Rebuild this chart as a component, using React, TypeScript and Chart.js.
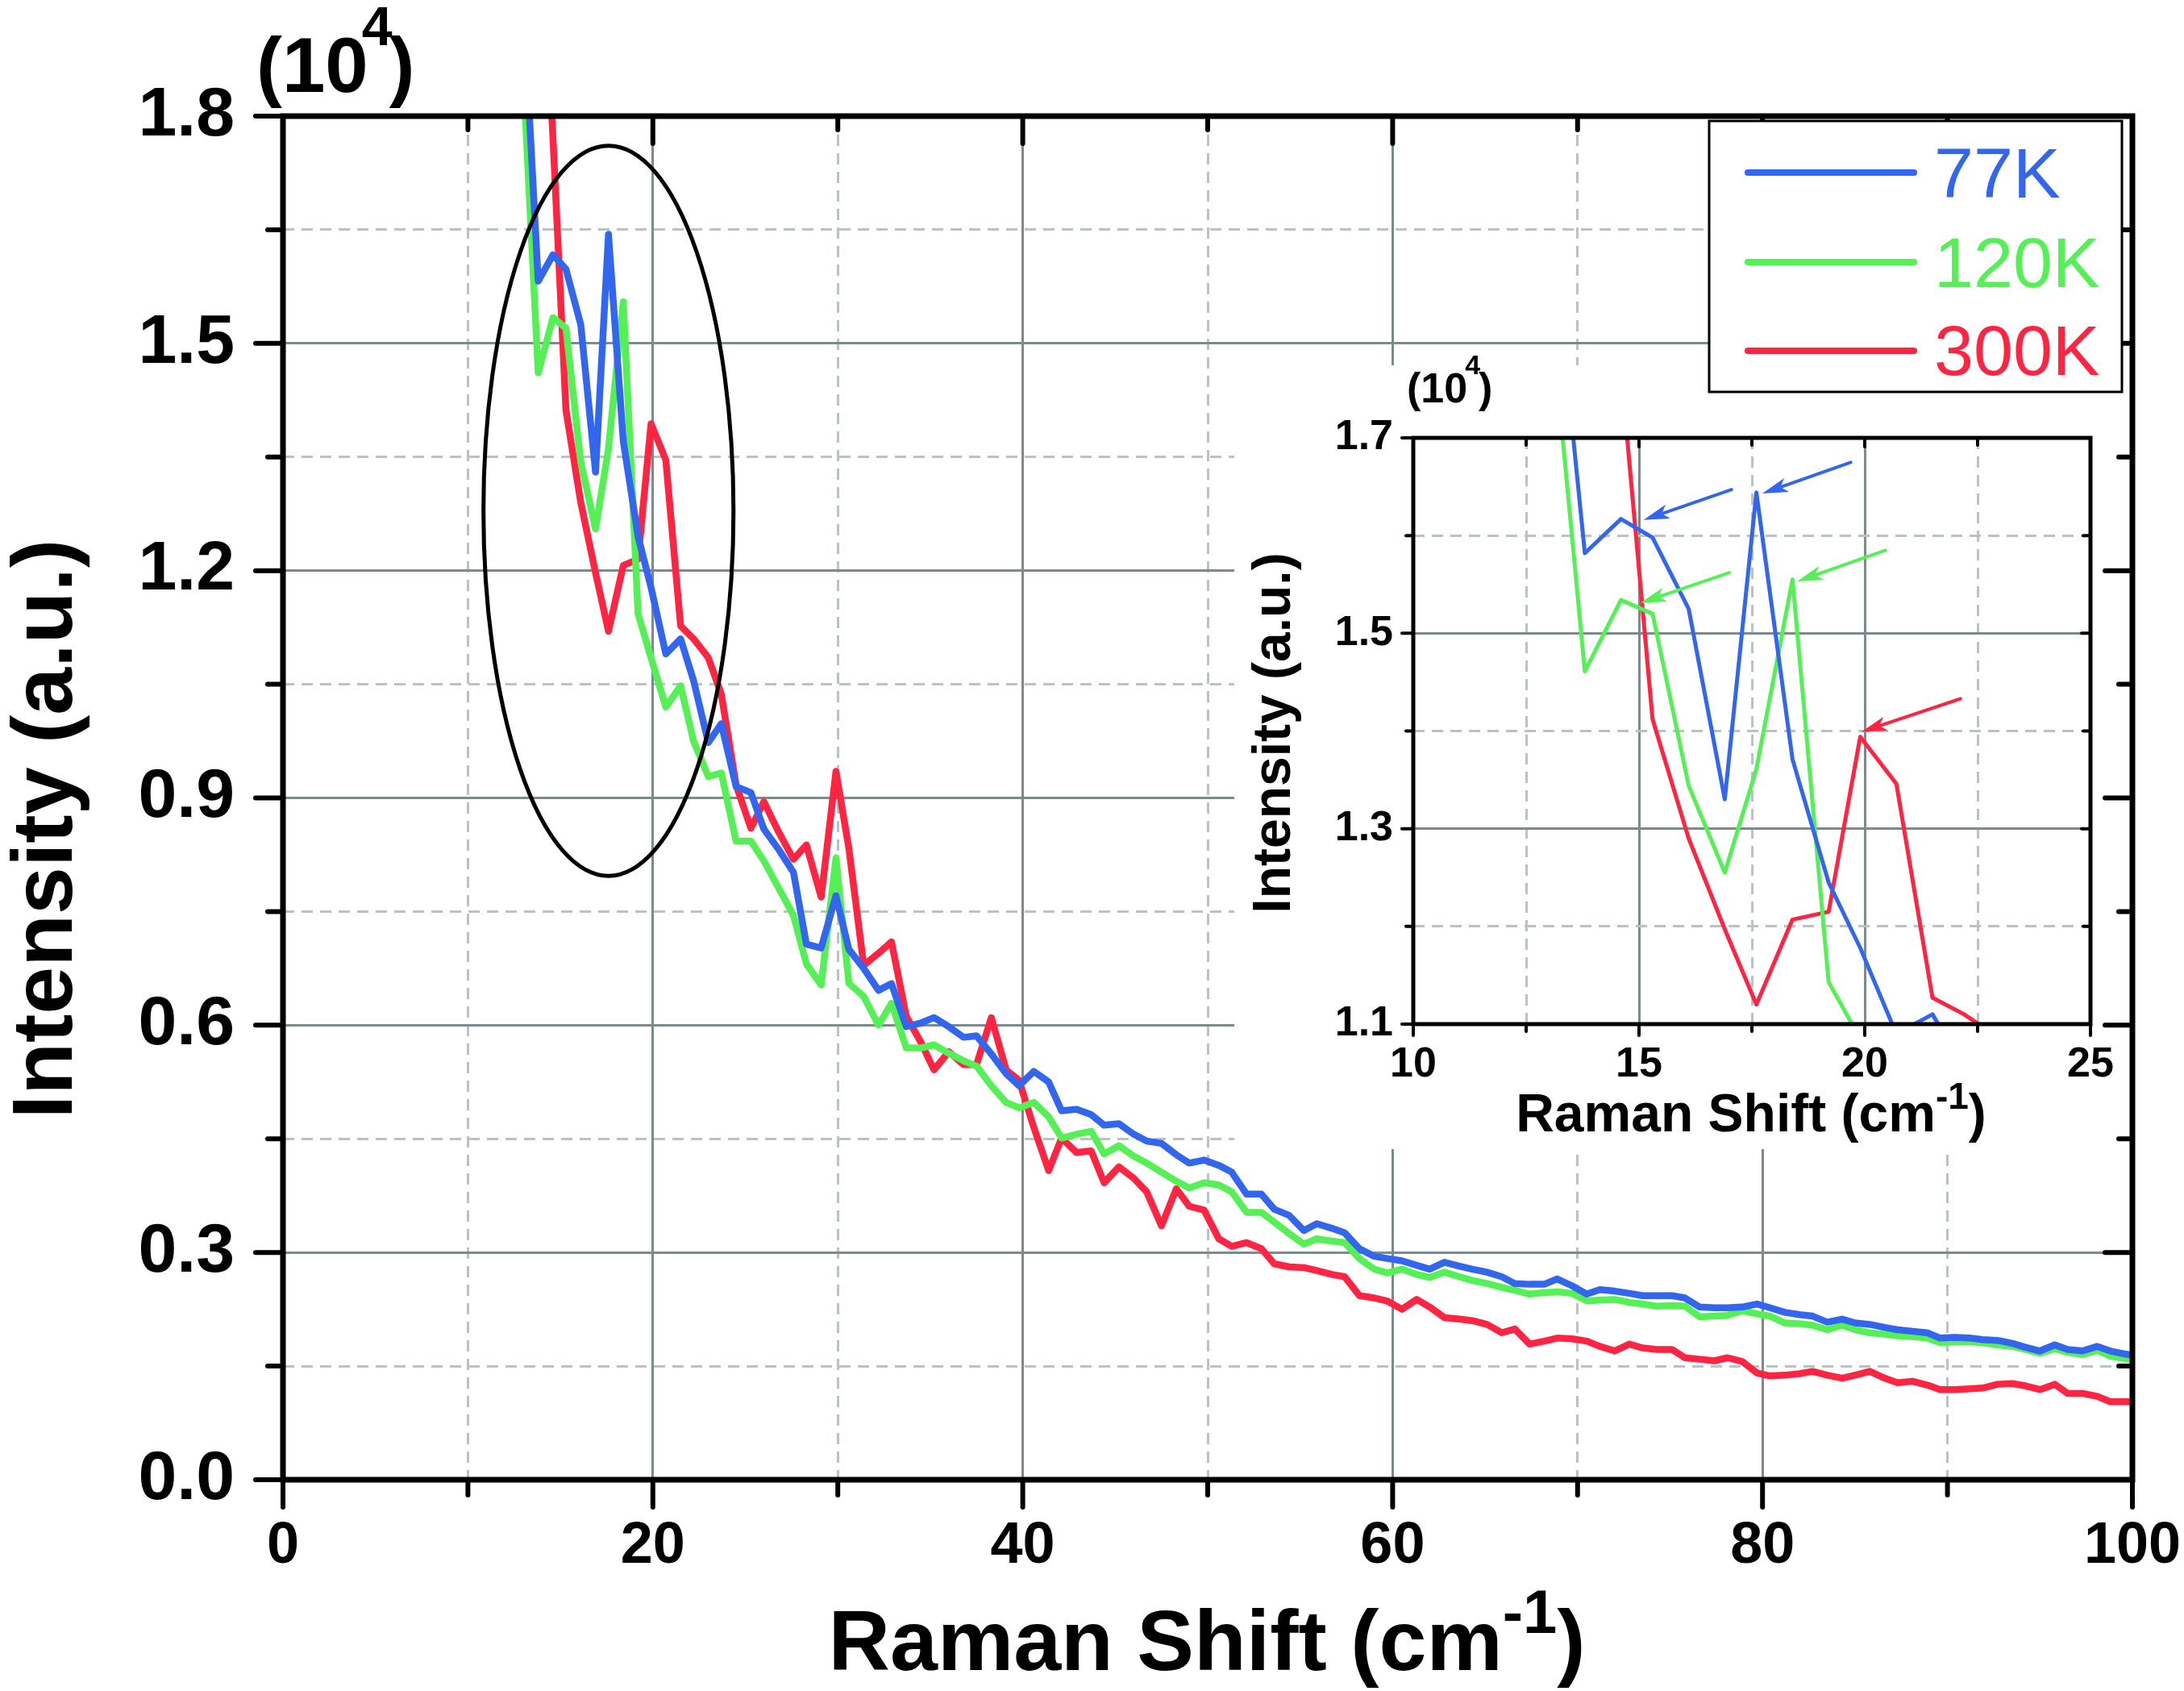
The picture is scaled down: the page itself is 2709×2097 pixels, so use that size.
import { useEffect, useRef } from "react";
import { Chart, registerables } from "chart.js";

Chart.register(...registerables);

// Raman shift (cm-1), shared by the three spectra
const shift = [
  13.0, 13.8, 14.6, 15.3, 16.1, 16.9, 17.6, 18.4, 19.2, 19.9,
  20.7, 21.5, 22.2, 23.0, 23.7, 24.5, 25.3, 26.0, 26.8, 27.6,
  28.3, 29.1, 29.9, 30.6, 31.4, 32.2, 32.9, 33.7, 34.5, 35.2,
  36.0, 36.8, 37.5, 38.3, 39.1, 39.8, 40.6, 41.4, 42.1, 42.9,
  43.7, 44.4, 45.2, 46.0, 46.7, 47.5, 48.3, 49.0, 49.8, 50.6,
  51.3, 52.1, 52.9, 53.6, 54.4, 55.2, 55.9, 56.7, 57.4, 58.2,
  59.0, 59.7, 60.5, 61.3, 62.0, 62.8, 63.6, 64.3, 65.1, 65.9,
  66.6, 67.4, 68.2, 68.9, 69.7, 70.5, 71.2, 72.0, 72.8, 73.5,
  74.3, 75.1, 75.8, 76.6, 77.4, 78.1, 78.9, 79.7, 80.4, 81.2,
  82.0, 82.7, 83.5, 84.3, 85.0, 85.8, 86.6, 87.3, 88.1, 88.9,
  89.6, 90.4, 91.2, 91.9, 92.7, 93.5, 94.2, 95.0, 95.8, 96.5,
  97.3, 98.1, 98.8, 99.6, 100.3,
];

// intensity in units of 10^4
const i77 = [
  1.95, 1.582, 1.617, 1.598, 1.525, 1.33, 1.644, 1.371, 1.245, 1.178,
  1.09, 1.11, 1.055, 0.973, 0.998, 0.915, 0.907, 0.859, 0.832, 0.802,
  0.707, 0.702, 0.771, 0.7, 0.675, 0.646, 0.655, 0.598, 0.603, 0.61,
  0.598, 0.584, 0.586, 0.562, 0.536, 0.52, 0.539, 0.525, 0.487, 0.489,
  0.482, 0.468, 0.47, 0.456, 0.447, 0.444, 0.429, 0.418, 0.422, 0.415,
  0.406, 0.377, 0.377, 0.357, 0.349, 0.329, 0.338, 0.332, 0.326, 0.305,
  0.295, 0.292, 0.289, 0.283, 0.278, 0.287, 0.282, 0.278, 0.274, 0.268,
  0.259, 0.258, 0.258, 0.265, 0.256, 0.245, 0.251, 0.249, 0.246, 0.243,
  0.243, 0.243, 0.24, 0.228, 0.227, 0.227, 0.228, 0.232, 0.227, 0.221,
  0.218, 0.216, 0.208, 0.212, 0.207, 0.205, 0.201, 0.198, 0.196, 0.194,
  0.187, 0.188, 0.187, 0.185, 0.184, 0.18, 0.175, 0.17, 0.178, 0.172,
  0.17, 0.176, 0.17, 0.166, 0.163,
];

const i120 = [
  1.85, 1.461, 1.534, 1.52, 1.344, 1.255, 1.361, 1.555, 1.143, 1.085,
  1.02, 1.048, 0.975, 0.928, 0.933, 0.843, 0.843, 0.817, 0.781, 0.745,
  0.681, 0.653, 0.821, 0.655, 0.638, 0.6, 0.629, 0.57, 0.57, 0.574,
  0.563, 0.553, 0.546, 0.52, 0.498, 0.491, 0.498, 0.479, 0.451, 0.456,
  0.46, 0.43, 0.441, 0.427, 0.418, 0.406, 0.394, 0.385, 0.392, 0.389,
  0.38, 0.353, 0.353, 0.34, 0.325, 0.311, 0.318, 0.315, 0.313, 0.292,
  0.278, 0.273, 0.278, 0.271, 0.267, 0.274, 0.268, 0.263, 0.259, 0.254,
  0.25, 0.245, 0.247, 0.248, 0.246, 0.236, 0.237, 0.238, 0.234, 0.232,
  0.229, 0.23, 0.229, 0.215, 0.216, 0.217, 0.223, 0.219, 0.216, 0.207,
  0.206, 0.204, 0.198, 0.204, 0.198, 0.194, 0.192, 0.19, 0.189, 0.187,
  0.181, 0.182, 0.182, 0.181, 0.178, 0.176, 0.172, 0.167, 0.173, 0.168,
  0.165, 0.171, 0.163, 0.16, 0.158,
];

const i300 = [
  2.6, 2.15, 1.77, 1.412, 1.29, 1.197, 1.12, 1.207, 1.215, 1.394,
  1.346, 1.127, 1.11, 1.085, 1.037, 0.917, 0.86, 0.895, 0.855, 0.819,
  0.838, 0.769, 0.935, 0.833, 0.679, 0.695, 0.71, 0.612, 0.577, 0.541,
  0.565, 0.548, 0.548, 0.61, 0.541, 0.527, 0.465, 0.408, 0.451, 0.432,
  0.434, 0.392, 0.413, 0.398, 0.38, 0.335, 0.384, 0.361, 0.356, 0.318,
  0.308, 0.313, 0.305, 0.285, 0.281, 0.28, 0.276, 0.271, 0.268, 0.243,
  0.24, 0.236, 0.225, 0.238, 0.228, 0.214, 0.212, 0.21, 0.205, 0.194,
  0.199, 0.179, 0.183, 0.187, 0.186, 0.183, 0.176, 0.17, 0.179, 0.174,
  0.172, 0.172, 0.161, 0.159, 0.157, 0.161, 0.156, 0.141, 0.137, 0.138,
  0.14, 0.143, 0.138, 0.134, 0.138, 0.143, 0.134, 0.128, 0.13, 0.125,
  0.119, 0.119, 0.12, 0.121, 0.126, 0.127, 0.124, 0.119, 0.126, 0.114,
  0.114, 0.11, 0.103, 0.103, 0.103,
];

const seriesNames = ["77K", "120K", "300K"];
const seriesValues = [i77, i120, i300];
const seriesColors = ["#3366ee", "#55f055", "#ff2442"];

// circled region in the main plot (data units)
const ellipse = { cx: 17.6, cy: 1.279, rx: 6.76, ry: 0.482 };

// arrows in the inset: [x, y] tail -> head (data units)
const insetArrows = [
  { color: 0, from: [17.05, 1.647], to: [15.1, 1.616] },
  { color: 0, from: [19.69, 1.675], to: [17.73, 1.643] },
  { color: 1, from: [17.0, 1.562], to: [15.03, 1.531] },
  { color: 1, from: [20.46, 1.585], to: [18.5, 1.553] },
  { color: 2, from: [22.12, 1.433], to: [19.92, 1.399] },
];

const FONT = '"Liberation Sans", Arial, Helvetica, sans-serif';
const GRID_SOLID = "#7d8a8b";
const GRID_DASH = "#b9c3c3";

// where the inset sits on the page
const INSET = { left: 1531, top: 430, width: 1099, height: 995 };

const onStep = (v: number, step: number) =>
  Math.abs(v / step - Math.round(v / step)) < 1e-6;

type Run = { text: string; size: number; rise?: number; dx?: number; weight?: string };

function drawRuns(ctx: CanvasRenderingContext2D, runs: Run[], x: number, y: number, center: boolean) {
  const widths = runs.map((r) => {
    ctx.font = `${r.weight ?? "bold"} ${r.size}px ${FONT}`;
    return ctx.measureText(r.text).width + (r.dx ?? 0);
  });
  const total = widths.reduce((a, b) => a + b, 0);
  let cx = center ? x - total / 2 : x;
  ctx.textAlign = "left";
  ctx.textBaseline = "alphabetic";
  runs.forEach((r, i) => {
    ctx.font = `${r.weight ?? "bold"} ${r.size}px ${FONT}`;
    ctx.fillText(r.text, cx + (r.dx ?? 0), y - (r.rise ?? 0));
    cx += widths[i];
  });
}

function axis(
  min: number,
  max: number,
  step: number,
  major: (v: number) => boolean,
  label: (v: number) => string,
  fontSize: number,
  padding: number,
  lineWidth: number,
  fit: (s: any) => void
) {
  return {
    type: "linear" as const,
    min,
    max,
    afterFit: (s: any) => {
      fit(s);
      // keep the plot box where the layout padding puts it
      s.paddingLeft = 0;
      s.paddingRight = 0;
      s.paddingTop = 0;
      s.paddingBottom = 0;
    },
    ticks: {
      stepSize: step,
      autoSkip: false,
      maxRotation: 0,
      padding,
      color: "#000",
      font: { family: FONT, size: fontSize, weight: "bold" as const },
      callback: (v: any) => (major(Number(v)) ? label(Number(v)) : ""),
    },
    grid: {
      drawTicks: false,
      lineWidth,
      color: (c: any) => (major(c.tick.value) ? GRID_SOLID : GRID_DASH),
    },
    border: {
      display: false,
      dash: (c: any) => (c.tick && major(c.tick.value) ? [] : [14, 9]),
    },
  };
}

function frame(opts: {
  frameWidth: number;
  tickWidth: number;
  major: { x: (v: number) => boolean; y: (v: number) => boolean };
  outMajor: number;
  outMinor: number;
  inMajor: number;
  inMinor: number;
}) {
  return {
    id: "frame",
    afterDraw(chart: any) {
      const { ctx, chartArea: a, scales } = chart;
      const line = (x1: number, y1: number, x2: number, y2: number) => {
        ctx.beginPath();
        ctx.moveTo(x1, y1);
        ctx.lineTo(x2, y2);
        ctx.stroke();
      };
      ctx.save();
      ctx.strokeStyle = "#000";
      ctx.lineCap = "round";
      ctx.lineWidth = opts.tickWidth;
      scales.x.ticks.forEach((t: any) => {
        const px = scales.x.getPixelForValue(t.value);
        const m = opts.major.x(t.value);
        line(px, a.bottom, px, a.bottom + (m ? opts.outMajor : opts.outMinor));
        line(px, a.top, px, a.top + (m ? opts.inMajor : opts.inMinor));
      });
      scales.y.ticks.forEach((t: any) => {
        const py = scales.y.getPixelForValue(t.value);
        const m = opts.major.y(t.value);
        line(a.left, py, a.left - (m ? opts.outMajor : opts.outMinor), py);
        line(a.right, py, a.right - (m ? opts.inMajor : opts.inMinor), py);
      });
      ctx.lineCap = "square";
      ctx.lineWidth = opts.frameWidth;
      ctx.strokeRect(a.left, a.top, a.right - a.left, a.bottom - a.top);
      ctx.restore();
    },
  };
}

function datasets(width: number) {
  return seriesNames.map((name, k) => ({
    label: name,
    data: shift.map((x, i) => ({ x, y: seriesValues[k][i] })),
    borderColor: seriesColors[k],
    borderWidth: width,
    borderJoinStyle: "round" as const,
    pointRadius: 0,
    tension: 0,
    fill: false,
  }));
}

export default function App() {
  const mainRef = useRef<HTMLCanvasElement | null>(null);
  const insetRef = useRef<HTMLCanvasElement | null>(null);

  useEffect(() => {
    document.body.style.margin = "0";
    if (!mainRef.current || !insetRef.current) {
      return;
    }

    const mainMajor = { x: (v: number) => onStep(v, 20), y: (v: number) => onStep(v, 0.3) };

    const mainChart = new Chart(mainRef.current, {
      type: "line",
      data: { datasets: datasets(8.5) },
      options: {
        animation: false,
        responsive: false,
        layout: { padding: { left: 0, top: 144, right: 64, bottom: 0 } },
        plugins: { legend: { display: false }, tooltip: { enabled: false } },
        scales: {
          x: axis(0, 100, 10, mainMajor.x, (v) => String(v), 72, 40, 3, (s) => {
            s.height = 262;
          }),
          y: axis(0, 1.8, 0.15, mainMajor.y, (v) => v.toFixed(1), 86, 60, 3, (s) => {
            s.width = 351;
          }),
        },
      },
      plugins: [
        {
          // blank panel behind the inset hides the main grid there
          id: "insetPanel",
          beforeDatasetsDraw(chart: any) {
            const { ctx } = chart;
            ctx.save();
            ctx.fillStyle = "#fff";
            ctx.fillRect(INSET.left, INSET.top + 23, INSET.width, INSET.height - 23);
            ctx.restore();
          },
        },
        {
          id: "ellipse",
          afterDatasetsDraw(chart: any) {
            const { ctx, scales } = chart;
            const cx = scales.x.getPixelForValue(ellipse.cx);
            const cy = scales.y.getPixelForValue(ellipse.cy);
            const rx = Math.abs(scales.x.getPixelForValue(ellipse.cx + ellipse.rx) - cx);
            const ry = Math.abs(scales.y.getPixelForValue(ellipse.cy + ellipse.ry) - cy);
            ctx.save();
            ctx.strokeStyle = "#000";
            ctx.lineWidth = 5;
            ctx.beginPath();
            ctx.ellipse(cx, cy, rx, ry, 0, 0, Math.PI * 2);
            ctx.stroke();
            ctx.restore();
          },
        },
        frame({
          frameWidth: 7,
          tickWidth: 6,
          major: mainMajor,
          outMajor: 34,
          outMinor: 19,
          inMajor: 34,
          inMinor: 17,
        }),
        {
          id: "texts",
          afterDraw(chart: any) {
            const { ctx } = chart;
            ctx.save();
            ctx.fillStyle = "#000";
            drawRuns(
              ctx,
              [
                { text: "(10", size: 96 },
                { text: "4", size: 68, rise: 58, dx: -8 },
                { text: ")", size: 96, dx: -4 },
              ],
              318,
              114,
              false
            );
            drawRuns(
              ctx,
              [
                { text: "Raman Shift (cm", size: 106 },
                { text: "-1", size: 76, rise: 46 },
                { text: ")", size: 106 },
              ],
              1497,
              2071,
              true
            );
            ctx.translate(89, 1028);
            ctx.rotate(-Math.PI / 2);
            drawRuns(ctx, [{ text: "Intensity (a.u.)", size: 106 }], 0, 0, true);
            ctx.restore();

            // legend box
            ctx.save();
            ctx.fillStyle = "#fff";
            ctx.fillRect(2120, 150, 512, 336);
            ctx.strokeStyle = "#000";
            ctx.lineWidth = 3;
            ctx.strokeRect(2120, 150, 512, 336);
            const rows = [214, 325, 435];
            const bases = [245, 356, 465];
            seriesNames.forEach((name, k) => {
              ctx.strokeStyle = seriesColors[k];
              ctx.lineWidth = 8;
              ctx.lineCap = "round";
              ctx.beginPath();
              ctx.moveTo(2168, rows[k]);
              ctx.lineTo(2374, rows[k]);
              ctx.stroke();
              ctx.fillStyle = seriesColors[k];
              drawRuns(ctx, [{ text: name, size: 88, weight: "normal" }], 2399, bases[k], false);
            });
            ctx.restore();
          },
        },
      ],
    });

    const insetMajor = {
      x: (v: number) => onStep(v, 5),
      y: (v: number) => onStep(v - 1.1, 0.2),
    };

    const insetChart = new Chart(insetRef.current, {
      type: "line",
      data: { datasets: datasets(5) },
      options: {
        animation: false,
        responsive: false,
        layout: { padding: { left: 0, top: 113, right: 37, bottom: 0 } },
        plugins: { legend: { display: false }, tooltip: { enabled: false } },
        scales: {
          x: axis(10, 25, 2.5, insetMajor.x, (v) => String(v), 52, 19, 3, (s) => {
            s.height = 155;
          }),
          y: axis(1.1, 1.7, 0.1, insetMajor.y, (v) => v.toFixed(1), 52, 25, 3, (s) => {
            s.width = 222;
          }),
        },
      },
      plugins: [
        {
          id: "arrows",
          afterDatasetsDraw(chart: any) {
            const { ctx, scales } = chart;
            ctx.save();
            insetArrows.forEach((a) => {
              const x1 = scales.x.getPixelForValue(a.from[0]);
              const y1 = scales.y.getPixelForValue(a.from[1]);
              const x2 = scales.x.getPixelForValue(a.to[0]);
              const y2 = scales.y.getPixelForValue(a.to[1]);
              const ang = Math.atan2(y2 - y1, x2 - x1);
              const len = 32;
              const half = 9;
              const bx = x2 - Math.cos(ang) * len;
              const by = y2 - Math.sin(ang) * len;
              ctx.strokeStyle = seriesColors[a.color];
              ctx.fillStyle = seriesColors[a.color];
              ctx.lineWidth = 4;
              ctx.lineCap = "round";
              ctx.beginPath();
              ctx.moveTo(x1, y1);
              ctx.lineTo(bx + Math.cos(ang) * 6, by + Math.sin(ang) * 6);
              ctx.stroke();
              ctx.beginPath();
              ctx.moveTo(x2, y2);
              ctx.lineTo(bx - Math.sin(ang) * half, by + Math.cos(ang) * half);
              ctx.lineTo(bx + Math.cos(ang) * 8, by + Math.sin(ang) * 8);
              ctx.lineTo(bx + Math.sin(ang) * half, by - Math.cos(ang) * half);
              ctx.closePath();
              ctx.fill();
            });
            ctx.restore();
          },
        },
        frame({
          frameWidth: 5,
          tickWidth: 4,
          major: insetMajor,
          outMajor: 14,
          outMinor: 9,
          inMajor: 11,
          inMinor: 9,
        }),
        {
          id: "insetTexts",
          afterDraw(chart: any) {
            const { ctx } = chart;
            ctx.save();
            ctx.fillStyle = "#000";
            drawRuns(
              ctx,
              [
                { text: "(10", size: 52 },
                { text: "4", size: 34, rise: 35, dx: -3 },
                { text: ")", size: 52, dx: -2 },
              ],
              214,
              69,
              false
            );
            drawRuns(
              ctx,
              [
                { text: "Raman Shift (cm", size: 66 },
                { text: "-1", size: 46, rise: 28 },
                { text: ")", size: 66 },
              ],
              641,
              973,
              true
            );
            ctx.translate(69, 479);
            ctx.rotate(-Math.PI / 2);
            drawRuns(ctx, [{ text: "Intensity (a.u.)", size: 66 }], 0, 0, true);
            ctx.restore();
          },
        },
      ],
    });

    return () => {
      mainChart.destroy();
      insetChart.destroy();
    };
  }, []);

  return (
    <div style={{ position: "relative", width: 2709, height: 2097, background: "#fff" }}>
      <canvas
        ref={mainRef}
        width={2709}
        height={2097}
        style={{ position: "absolute", left: 0, top: 0, width: 2709, height: 2097 }}
      />
      <canvas
        ref={insetRef}
        width={INSET.width}
        height={INSET.height}
        style={{
          position: "absolute",
          left: INSET.left,
          top: INSET.top,
          width: INSET.width,
          height: INSET.height,
        }}
      />
    </div>
  );
}
